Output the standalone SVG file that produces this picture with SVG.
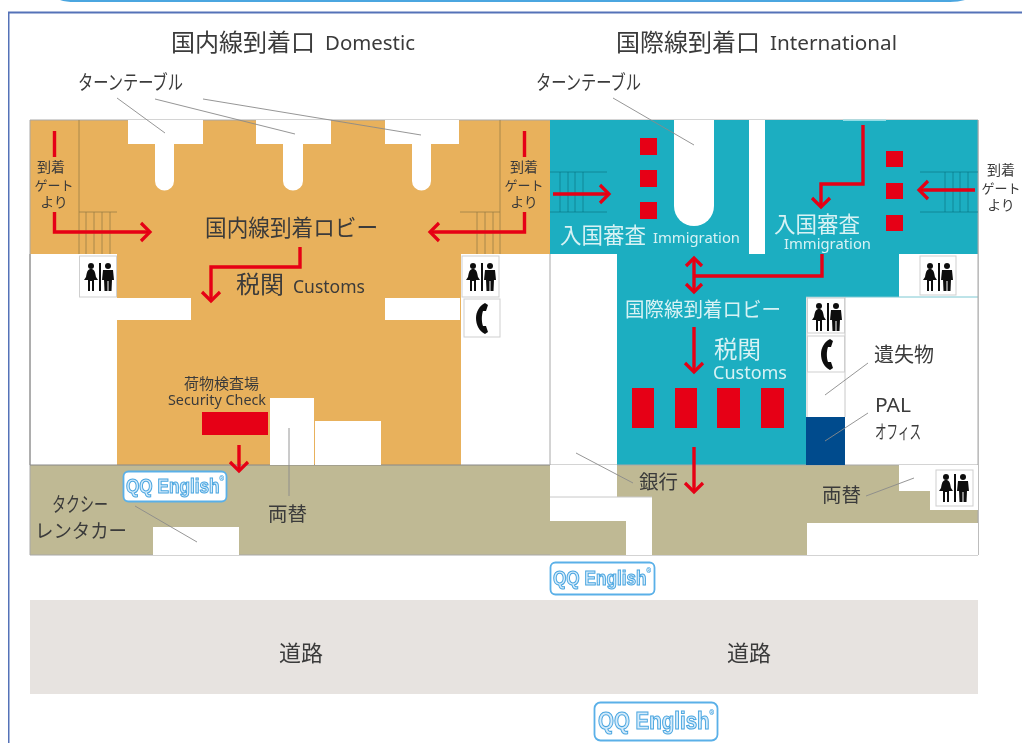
<svg xmlns="http://www.w3.org/2000/svg" width="1022" height="743" viewBox="0 0 1022 743">
<style>
text{font-family:"Noto Sans CJK JP","Noto Sans",sans-serif;fill:#3a3a3a}
.l{font-family:"Noto Sans",sans-serif}
.w{fill:#d8f2f4}
.m{text-anchor:middle}
.white{fill:#fff}
.or{fill:#e8b15c}
.te{fill:#1aaec1}
.be{fill:#bfb994}
.red{fill:#e60012}
.arr{fill:none;stroke:#e60012;stroke-width:3.4;marker-end:url(#h)}
.arr2{fill:none;stroke:#e60012;stroke-width:3.4}
.lead{fill:none;stroke:#8a8a8a;stroke-width:.9}
.st{fill:none;stroke:#9a7d45;stroke-width:.8}
.st2{fill:none;stroke:#0d7f8e;stroke-width:.8}
.box{fill:#fff;stroke:#cfcfcf;stroke-width:1}
.q{fill:#fff;stroke:#5ab0e8;stroke-width:1.8}
.qt{font-family:"Liberation Sans",sans-serif;font-weight:bold;fill:#d4ebfb;text-anchor:middle;stroke:#4ba6e0;stroke-width:1.1}
.qr{font-size:7px;font-weight:normal;stroke-width:.3}
.g{font-size:14px;text-anchor:middle}
.gk{font-size:13px}
.ic{fill:#111}
</style>
<defs>
<marker id="h" markerUnits="userSpaceOnUse" markerWidth="24" markerHeight="24" refX="14" refY="12" orient="auto"><path d="M5 3 L14 12 L5 21" fill="none" stroke="#e60012" stroke-width="3.2"/></marker>
<marker id="hs" markerUnits="userSpaceOnUse" markerWidth="24" markerHeight="24" refX="14" refY="12" orient="auto-start-reverse"><path d="M6 4 L14 12 L6 20" fill="none" stroke="#e60012" stroke-width="3.2"/></marker>
<g id="wc"><circle cx="8" cy="4" r="3" class="ic"/><path class="ic" d="M8 7 C5 7 4 9 3 15 L1 18 L5 18 L5 29 L7 29 L7 19 L9 19 L9 29 L11 29 L11 18 L15 18 L13 15 C12 9 11 7 8 7Z"/><rect x="16" y="1" width="2" height="28" class="ic"/><circle cx="25" cy="4" r="3" class="ic"/><path class="ic" d="M20 8 H30 L31 18 L29 18 L28.500 29 H25.500 V19 H24.500 V29 H21.500 L21 18 L19 18Z"/></g>
<path id="ph" class="ic" d="M10 0 C4 3 1 9 1 15 C1 22 4 28 10 31 L13 29 L11 23 L8 23 C6.500 19 6.500 12 8 8 L11 8 L13 2Z"/>
<filter id="soft" x="0" y="0" width="100%" height="100%"><feGaussianBlur stdDeviation=".5"/></filter>
</defs>
<rect width="1022" height="743" fill="#fff"/>
<g filter="url(#soft)">
<g id="frame">
<path d="M60 0 H965 Q958 2 950 2 H75 Q66 2 60 0Z" fill="#4ba6e0"/>
<path d="M8.500 743 V12.500 H1022" fill="none" stroke="#5572b8" stroke-width="2"/>
</g>
<g id="domestic-area">
<rect class="or" x="30" y="120" width="520" height="134"/>
<rect class="or" x="117" y="254" width="344" height="211"/>
<rect class="be" x="30" y="465" width="520" height="90"/>
<path d="M30 555 V120 H978 V555 H30" fill="none" stroke="#a8a8a8" stroke-width="1"/>
<path d="M30 254 V465 H550" fill="none" stroke="#888" stroke-width="1"/>
</g>
<g id="turntables-domestic" class="white">
<path class="white" d="M128 120 H203 V144 H174 V181 A9.500 9.500 0 0 1 155 181 V144 H128Z"/>
<path class="white" d="M256 120 H331 V144 H303 V181 A10 9.500 0 0 1 283 181 V144 H256Z"/>
<path class="white" d="M385 120 H459 V144 H431 V181 A9.500 9.500 0 0 1 412 181 V144 H385Z"/>
</g>
<g id="domestic-fixtures">
<rect class="white" x="117" y="298" width="74" height="22"/>
<rect class="white" x="385" y="298" width="75" height="22"/>
<rect class="red" x="202" y="412" width="66" height="23"/>
<rect class="white" x="270" y="398" width="44" height="67"/>
<rect class="white" x="315" y="421" width="66" height="44"/>
<rect class="white" x="153" y="527" width="86" height="28"/>
<path class="st" d="M79 120 V254 M500 120 V254 M79 212 H117 M86 212 V254 M94 212 V254 M102 212 V254 M110 212 V254 M460 212 H500 M477 212 V254 M485 212 V254 M493 212 V254"/>
</g>
<g id="intl-area">
<rect class="te" x="550" y="120" width="428" height="134"/>
<rect class="te" x="617" y="254" width="282" height="43"/>
<rect class="te" x="617" y="297" width="189" height="168"/>
<rect class="be" x="550" y="465" width="428" height="90"/>
<rect x="806" y="297" width="172" height="168" fill="#fff"/>
<rect x="899" y="254" width="79" height="43" fill="#fff"/>
<path d="M806 297 H978" stroke="#7cc8d2" stroke-width="1" fill="none"/>
<rect class="white" x="749" y="120" width="16" height="134"/>
<path class="white" d="M674 120 H714 V206 A20 20 0 0 1 674 206Z"/>
<rect x="843" y="119.500" width="43" height="1.500" fill="#8fdde6"/>
<rect class="white" x="550" y="254" width="67" height="211"/>
<path d="M550 254 V465 M978 120 V555 M550 465 H978" fill="none" stroke="#a8a8a8" stroke-width="1"/>
<path class="st2" d="M550 172 H607 M550 212 H607 M560 172 V212 M568 172 V212 M575 172 V212 M583 172 V212 M920 172 H978 M920 212 H978 M945 172 V212 M953 172 V212 M960 172 V212 M968 172 V212"/>
</g>
<g id="intl-fixtures">
<rect class="red" x="640" y="138" width="17" height="17"/>
<rect class="red" x="640" y="170" width="17" height="17"/>
<rect class="red" x="640" y="202" width="17" height="17"/>
<rect class="red" x="886" y="151" width="17" height="16"/>
<rect class="red" x="886" y="183" width="17" height="16"/>
<rect class="red" x="886" y="215" width="17" height="16"/>
<rect class="red" x="632" y="388" width="22" height="40"/>
<rect class="red" x="675" y="388" width="22" height="40"/>
<rect class="red" x="717" y="388" width="23" height="40"/>
<rect class="red" x="761" y="388" width="23" height="40"/>
<rect x="806" y="417" width="39" height="48" fill="#004b8d"/>
<path d="M807 297 V417 M845 297 V417" stroke="#c8c8c8" fill="none"/>
<rect class="white" x="550" y="465" width="67" height="32"/>
<rect class="white" x="550" y="497" width="102" height="58"/>
<rect class="be" x="550" y="521" width="76" height="34"/>
<path d="M550 497 H652" stroke="#c8c8c8" fill="none"/>
<rect class="white" x="899" y="465" width="31" height="26"/>
<rect class="white" x="930" y="465" width="48" height="45"/>
<rect class="white" x="807" y="523" width="171" height="32"/>
</g>
<g id="road"><rect x="30" y="600" width="948" height="94" fill="#e7e3e0"/>
<text x="301" y="661" font-size="22" class="m">道路</text><text x="749" y="661" font-size="22" class="m">道路</text></g>
<g id="connectors">
<path class="lead" d="M117 98 L165 133 M155 99 L295 134 M203 99 L421 135 M613 98 L694 145 M868 363 L825 395 M868 413 L825 441 M633 483 L576 453 M866 496 L914 478 M135 506 L197 542 M289 428 V496"/>
<path class="arr2" d="M54.500 131 V157 M524.500 131 V157"/>
<path class="arr" d="M54.500 212 V232 H150"/>
<path class="arr" d="M524.500 212 V232 H430"/>
<path class="arr" d="M300 247 V267 H211 V301"/>
<path class="arr" d="M239 445 V471"/>
<path class="arr" d="M553 194 H609"/>
<path class="arr" d="M975 190 H919"/>
<path class="arr" d="M863 125 V184 H821 V207"/>
<path class="arr2" d="M694 258 V292" style="marker-start:url(#hs);marker-end:url(#hs)"/>
<path class="arr2" d="M694 276 H822 V254"/>
<path class="arr" d="M694 327 V372"/>
<path class="arr" d="M694 447 V492"/>
</g>
<g id="wc-1"><rect class="box" x="79.500" y="256" width="37" height="41"/><use href="#wc" x="83" y="262"/></g>
<g id="wc-2"><rect class="box" x="462" y="256" width="37" height="41"/><use href="#wc" x="465" y="262"/></g>
<g id="phone-1"><rect class="box" x="464" y="299" width="36" height="38"/><use href="#ph" x="475" y="303"/></g>
<g id="wc-3"><rect class="box" x="920" y="256" width="36" height="39"/><use href="#wc" x="922" y="262"/></g>
<g id="wc-4"><rect class="box" x="807.500" y="298" width="37" height="35"/><use href="#wc" x="811" y="302"/></g>
<g id="phone-2"><rect class="box" x="807.500" y="336" width="37" height="36"/><use href="#ph" x="820" y="339"/></g>
<g id="wc-5"><rect class="box" x="936" y="470" width="37" height="36"/><use href="#wc" x="938" y="473"/></g>
<g id="logo-1"><rect class="q" x="123.500" y="471.500" width="103" height="30" rx="5"/><text class="qt" x="175" y="493" font-size="20" textLength="98" lengthAdjust="spacingAndGlyphs">QQ English<tspan class="qr" dy="-12">®</tspan></text></g>
<g id="logo-2"><rect class="q" x="550.500" y="562.500" width="104" height="32" rx="5"/><text class="qt" x="602" y="585" font-size="20" textLength="98" lengthAdjust="spacingAndGlyphs">QQ English<tspan class="qr" dy="-12">®</tspan></text></g>
<g id="logo-3"><rect class="q" x="594.500" y="702.500" width="123" height="38" rx="6"/><text class="qt" x="656" y="729" font-size="24" textLength="116" lengthAdjust="spacingAndGlyphs">QQ English<tspan class="qr" dy="-14">®</tspan></text></g>
<g id="labels">
<text x="171" y="51" font-size="24" textLength="144">国内線到着口</text>
<text class="l" x="325" y="50" font-size="20" textLength="90" lengthAdjust="spacingAndGlyphs">Domestic</text>
<text x="616" y="51" font-size="24" textLength="144">国際線到着口</text>
<text class="l" x="770" y="50" font-size="20" textLength="127" lengthAdjust="spacingAndGlyphs">International</text>
<text x="78" y="90" font-size="20" textLength="105" lengthAdjust="spacingAndGlyphs">ターンテーブル</text>
<text x="536" y="90" font-size="20" textLength="105" lengthAdjust="spacingAndGlyphs">ターンテーブル</text>
<text class="g" y="172"><tspan x="51">到着</tspan><tspan class="gk" x="54" dy="18">ゲート</tspan><tspan x="54" dy="17">より</tspan></text>
<text class="g" y="172"><tspan x="524">到着</tspan><tspan class="gk" x="524" dy="18">ゲート</tspan><tspan x="524" dy="17">より</tspan></text>
<text class="g" y="175"><tspan x="1001">到着</tspan><tspan class="gk" x="1001" dy="18">ゲート</tspan><tspan x="1001" dy="17">より</tspan></text>
<text x="205" y="236" font-size="23" textLength="173" lengthAdjust="spacingAndGlyphs">国内線到着ロビー</text>
<text x="236" y="293" font-size="24">税関</text>
<text class="l" x="293" y="293" font-size="17.500" textLength="72" lengthAdjust="spacingAndGlyphs">Customs</text>
<text x="184" y="389" font-size="15">荷物検査場</text>
<text class="l" x="168" y="405" font-size="14.500" textLength="98" lengthAdjust="spacingAndGlyphs">Security Check</text>
<text x="52" y="512" font-size="20" textLength="56" lengthAdjust="spacingAndGlyphs">タクシー</text>
<text x="35" y="538" font-size="19" textLength="92" lengthAdjust="spacingAndGlyphs">レンタカー</text>
<text x="268" y="521" font-size="19.500">両替</text>
<text class="w" x="560" y="243" font-size="21.500">入国審査</text>
<text class="w l" x="653" y="243" font-size="15" textLength="87" lengthAdjust="spacingAndGlyphs">Immigration</text>
<text class="w" x="774" y="232" font-size="21.500">入国審査</text>
<text class="w l" x="784" y="249" font-size="15" textLength="87" lengthAdjust="spacingAndGlyphs">Immigration</text>
<text class="w" x="625" y="317" font-size="20" textLength="156" lengthAdjust="spacingAndGlyphs">国際線到着ロビー</text>
<text class="w" x="714" y="358" font-size="23.500">税関</text>
<text class="w l" x="713" y="379" font-size="17.500" textLength="74" lengthAdjust="spacingAndGlyphs">Customs</text>
<text x="874" y="362" font-size="20">遺失物</text>
<text class="l" x="875" y="412" font-size="19" textLength="36" lengthAdjust="spacingAndGlyphs">PAL</text>
<text x="875" y="439" font-size="19" textLength="46" lengthAdjust="spacingAndGlyphs">オフィス</text>
<text x="639" y="489" font-size="19.500">銀行</text>
<text x="822" y="502" font-size="19.500">両替</text>
</g>
</g>
</svg>
